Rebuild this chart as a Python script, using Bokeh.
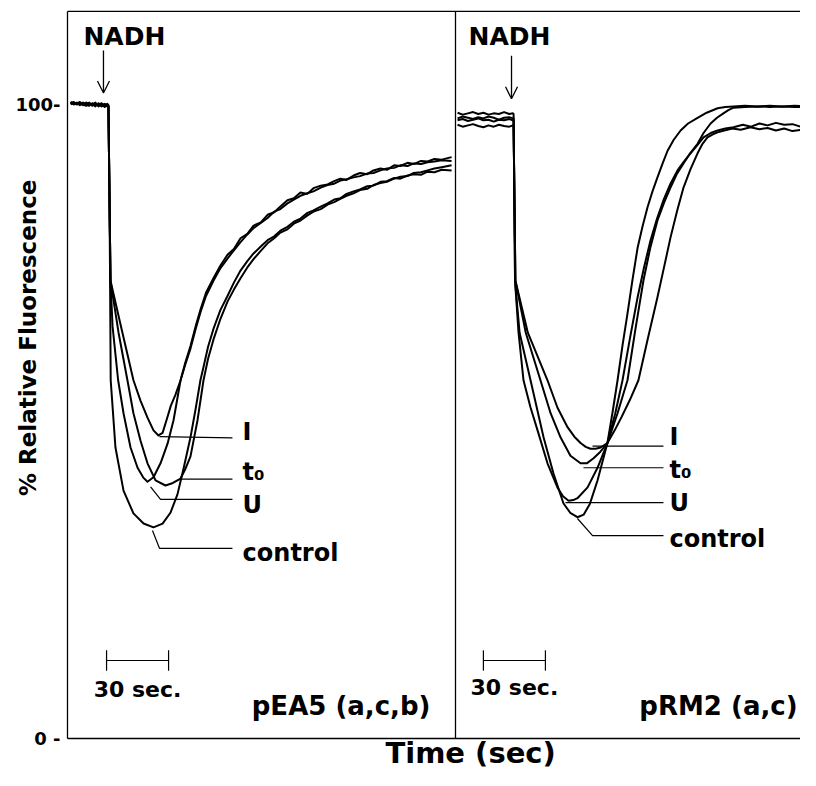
import math
from bokeh.plotting import figure
from bokeh.models import Range1d, Label, Arrow, OpenHead
from bokeh.embed import file_html
from bokeh.resources import INLINE

# ---------------- scales (seconds / % relative fluorescence) ----------------
X_START, X_END = -32.41, 354.6
Y_START, Y_END = -5.05, 116.4
FRAME_TOP = 114.67            # top border of the two panels
PANEL2_START = 187.7          # seconds at which the second panel begins
Y_TICKS = [0, 100]
Y_TICK_LABELS = ["0 -", "100-"]
Y_TICK_LABEL_X = -3.4

# ---------------- left panel: pEA5 (a,c,b) ----------------
L_base_t = [1.5, 3.0, 4.5, 6.0, 7.5, 9.0, 10.5, 12.0, 13.5, 15.0, 16.5, 18.0, 19.3]

L_I_t = L_base_t + [19.8, 20.3, 20.8, 26.3, 31.9, 35.3, 38.7, 41.6, 44.0, 46.0, 48.0, 50.0, 52.2,
                    54.7, 57, 59.5, 62, 64.3, 67, 70.6, 74, 77.4, 80.5, 83.7, 87, 90, 93.5, 96.8, 100,
                    103, 106.4, 109.5, 112.7, 116, 119, 122.5, 125.8, 129, 132, 135, 138.4, 141.5,
                    145, 148, 151.4, 154.5, 158, 161, 164.5, 167.5, 171, 174.2, 177.5, 181, 185.8]
L_I_y = [100.4, 100.1, 100.3, 99.9, 100.2, 100.0, 100.3, 99.8, 100.1, 99.9, 100.2, 99.8, 100.1,
         99.9, 86.0, 72.2, 64.4, 56.5, 53.3, 50.6, 48.6, 47.8, 48.2, 50.3, 52.5, 54.2,
         56.5, 59.3, 61.9, 65.0, 67.6, 70.3, 72.6, 74.6, 76.3, 77.2, 78.9, 79.6, 80.9, 81.4, 82.6, 83.0,
         83.9, 84.9, 85.2, 86.1, 85.9, 86.8, 87.2, 87.4, 87.9, 88.3, 88.1, 88.8, 89.2,
         89.0, 89.6, 89.9, 89.7, 90.4, 90.3, 90.8, 90.6, 91.1, 91.0, 91.4, 91.3, 91.7]

L_U_t = L_base_t + [19.8, 20.3, 20.8, 21.8, 24.5, 27.1, 30.5, 33.9, 36.8, 38.7, 41.6, 45.0, 48.4, 51.3,
                    54.7, 57, 59.5, 62, 64.3, 67, 70.6, 74, 77.4, 80.5, 83.7, 87, 90, 93.5, 96.8, 100,
                    103, 106.4, 109.5, 112.7, 116, 119, 122.5, 125.8, 129, 132, 135, 138.4, 141.5,
                    145, 148, 151.4, 154.5, 158, 161, 164.5, 167.5, 171, 174.2, 177.5, 181, 185.8]
L_U_y = [100.2, 100.4, 100.0, 100.2, 99.9, 100.3, 100.0, 100.1, 99.7, 100.2, 99.8, 100.1, 99.9,
         99.8, 86.0, 72.2, 65.0, 56.5, 51.3, 45.9, 42.7, 41.1, 40.5, 41.2, 43.4, 46.5, 50.2,
         56.5, 59.0, 61.5, 64.6, 67.2, 69.8, 72.2, 74.2, 75.7, 77.0, 78.3, 79.5, 80.5, 81.3, 82.1, 83.1,
         83.5, 84.4, 85.0, 85.6, 86.0, 86.3, 86.9, 87.3, 87.5, 88.0, 88.2, 88.5, 88.7,
         89.1, 89.2, 89.6, 89.9, 90.0, 90.4, 90.3, 90.7, 90.6, 90.9, 91.0, 91.2, 91.1]

L_t0_t = L_base_t + [19.8, 20.3, 20.8, 24.7, 29.0, 31.9, 35.3, 38.7, 42.6, 47.4, 51.0, 54.7, 57.0, 59.5, 62.9,
                     65.8, 68, 70.6, 74, 77.4, 80.5, 83.7, 87, 90, 93.5, 96.8, 100, 103, 106.4, 109.5,
                     112.7, 116.1, 119, 122.5, 125.8, 129, 132, 135, 138.4, 141.5, 145, 148, 151.4,
                     154.5, 158, 161, 164.5, 167.5, 171, 174.2, 177.5, 181, 185.8]
L_t0_y = [100.0, 100.3, 100.1, 100.4, 100.0, 99.8, 100.2, 99.9, 100.3, 99.7, 100.0, 99.6, 99.9,
          99.7, 86.0, 72.2, 64.0, 56.5, 51.3, 47.0, 43.4, 40.7, 39.9, 40.3, 41.0, 42.5, 44.5, 50.2,
          56.5, 59.9, 62.9, 66.2, 68.9, 70.8, 72.6, 74.3, 75.6, 76.9, 78.1, 78.9, 79.8, 80.3, 81.2,
          81.7, 82.5, 83.1, 83.5, 84.2, 84.6, 85.1, 85.6, 86.0, 86.5, 86.7, 87.3, 87.6,
          87.8, 88.3, 88.6, 88.7, 89.2, 89.3, 89.6, 89.9, 90.1, 90.4]

L_ctrl_t = L_base_t + [19.8, 20.3, 20.6, 20.9, 23.2, 27.1, 31.9, 36.8, 41.6, 46.0, 49.8, 53.2, 56.1, 59.5, 62.0,
                       64.3, 65.8, 68, 70.6, 74, 77.4, 80.5, 83.7, 87, 90, 93.5, 96.8, 100, 103, 106.4,
                       109.5, 112.7, 116.1, 119, 122.5, 125.8, 129, 132, 135, 138.4, 141.5, 145, 148,
                       151.4, 154.5, 158, 161, 164.5, 167.5, 171, 174.2, 177.5, 181, 185.8]
L_ctrl_y = [100.3, 100.0, 100.2, 100.1, 100.3, 99.9, 99.8, 100.2, 99.9, 100.1, 99.7, 100.0, 99.7,
            99.6, 86.0, 72.2, 56.5, 45.9, 39.1, 35.5, 33.9, 33.3, 33.9, 35.6, 38.5, 42.5, 47.5, 52.0,
            56.5, 58.6, 61.8, 64.6, 67.6, 69.8, 71.9, 73.8, 75.3, 76.5, 77.6, 78.6, 79.2, 80.1, 80.7,
            81.5, 82.0, 82.9, 83.3, 83.9, 84.4, 85.0, 85.2, 85.9, 86.3, 86.6, 87.1, 87.2,
            87.8, 87.9, 88.4, 88.3, 88.8, 89.0, 88.9, 89.4, 89.3, 89.7, 89.6]

# ---------------- right panel: pRM2 (a,c) (seconds from panel start) ----------------
R_base_t = [1.0, 3.5, 6.0, 8.5, 11.0, 13.5, 16.0, 18.5, 21.0, 23.5, 26.0, 27.8]

R_ctrl_t = R_base_t + [28.1, 28.5, 28.8, 31.0, 36.3, 42.6, 47.4, 52.2, 55.5, 59.0, 62.0, 65.0, 68.7, 73.5,
                       76.0, 78.4, 80.8, 83.2, 85.6, 88.1, 90.5, 92.9, 95.3, 97.7, 100.2, 102.6, 105.5,
                       108.9, 112.5, 117.1, 121.5, 126.8, 130.5, 134.5, 140, 146, 152, 158, 164, 170.8]
R_ctrl_y = [98.7, 98.4, 98.6, 98.8, 98.5, 98.7, 98.4, 98.6, 98.5, 98.8, 98.5, 98.6,
            98.5, 85.0, 72.2, 64.0, 56.5, 47.5, 41.8, 37.1, 35.6, 34.9, 35.3, 37.0, 40.7, 46.6,
            51.5, 56.5, 62.0, 67.0, 72.3, 77.4, 80.8, 83.8, 86.3, 88.5, 90.7, 92.7, 94.4,
            95.9, 97.0, 97.9, 98.7, 99.4, 99.6, 99.7, 99.8, 99.7, 99.8, 99.7, 99.8, 99.7]

R_U_t = R_base_t + [28.1, 28.5, 28.8, 30.5, 32.9, 36.3, 39.7, 44.5, 49.3, 52.0, 54.7, 57.0, 59.0, 63.9, 68.7,
                    73.5, 78.4, 83.2, 87.0, 90.9, 94.3, 97.7, 101.0, 104.0, 107.0, 110.3, 113.5, 117.1,
                    120.0, 123.4, 126.5, 129.6, 132.0, 134.5, 140, 146, 152, 158, 164, 170.8]
R_U_y = [97.8, 98.1, 97.9, 97.7, 98.0, 97.8, 98.1, 97.9, 97.6, 97.9, 98.0, 97.8,
         97.8, 85.0, 72.2, 64.0, 56.5, 52.2, 48.6, 43.4, 39.6, 38.2, 37.5, 37.6, 37.9, 39.6, 42.7,
         46.6, 51.3, 56.5, 64.5, 72.2, 77.5, 81.7, 84.6, 86.9, 89.0, 90.7, 92.3, 93.8,
         95.5, 97.0, 97.9, 98.6, 99.1, 99.5, 99.6, 99.7, 99.6, 99.7, 99.6, 99.6]

R_t0_t = R_base_t + [28.1, 28.5, 29.0, 34.0, 41.1, 46.0, 50.8, 55.6, 60.5, 63.5, 66.8, 70.0, 73.5, 77.3,
                     80.8, 84.5, 88.1, 91.2, 94.3, 97.5, 100.6, 104.0, 107.4, 110.5, 113.7, 117.0, 120.0,
                     123.5, 126.8, 130.5, 134.5, 139, 143, 147, 151, 155, 159, 163, 167, 170.8]
R_t0_y = [97.5, 97.7, 97.4, 97.6, 97.8, 97.5, 97.6, 97.3, 97.6, 97.5, 97.7, 97.5,
          97.5, 85.0, 72.2, 64.0, 56.5, 51.3, 47.5, 44.6, 43.4, 43.4, 44.2, 45.2, 46.6, 51.3,
          56.5, 63.3, 69.6, 74.3, 78.5, 82.0, 84.9, 87.5, 89.6, 91.0, 92.3, 93.6, 94.8,
          95.5, 95.9, 96.2, 96.4, 96.8, 96.5, 97.0, 96.7, 97.1, 96.8, 96.9, 96.5, 96.7]

R_I_t = R_base_t + [28.1, 28.5, 29.0, 35.0, 44.5, 49.3, 54.2, 57.5, 60.5, 63.0, 65.3, 67.8, 70.2, 73.5,
                    77.0, 80.5, 84.5, 88.5, 93.0, 97.7, 101.0, 104.0, 107.2, 110.3, 113.7, 117.1, 119.5,
                    121.9, 124.5, 126.8, 130, 134, 138, 142.7, 147, 151, 155, 159, 163, 167, 170.8]
R_I_y = [96.8, 96.5, 96.7, 96.9, 96.6, 96.4, 96.7, 96.5, 96.8, 96.6, 96.5, 96.7,
         96.7, 85.0, 72.2, 64.0, 56.5, 52.2, 49.1, 47.6, 46.6, 46.0, 45.7, 45.7, 45.9, 46.6,
         48.6, 50.8, 53.5, 56.5, 63.0, 69.6, 74.5, 79.0, 83.2, 86.9, 89.8, 92.3, 93.8,
         94.8, 95.3, 95.6, 95.9, 96.2, 96.0, 96.4, 96.1, 96.3, 95.9, 96.2, 95.8, 96.0, 95.9]

# ---------------- curve labels and leader lines ----------------
CURVE_NAMES = ["I", "t\u2080", "U", "control"]
L_label_t = 84.7
L_label_y = [48.4, 42.1, 36.75, 29.2]
L_leaders_t = [[44.5, 79.8], [54.7, 79.8], [40.2, 45.0, 79.8], [41.1, 44.5, 79.8]]
L_leaders_y = [[47.6, 47.4], [40.9, 40.9], [39.7, 37.7, 37.7], [32.8, 30.0, 30.0]]

R_label_t = 103.5
R_label_y = [47.6, 42.3, 37.2, 31.5]
R_leaders_t = [[66.3, 100.6], [61.9, 100.6], [53.2, 100.6], [59.0, 66.3, 100.6]]
R_leaders_y = [[46.1, 46.1], [42.7, 42.7], [37.2, 37.2], [34.7, 32.0, 32.0]]

# ---------------- annotations ----------------
NADH_t = [7.7, 6.3]            # left edge of "NADH" per panel
NADH_y = 110.65
ARROW_t = [17.4, 27.1]
ARROW_y_start = [108.5, 107.7]
ARROW_y_end = [101.8, 100.9]
SCALE_LEN = 30                 # seconds
SCALE_START = [18.9, 13.5]
SCALE_Y = 12.3
SCALE_TICK = 1.6
SCALE_TEXT = "30 sec."
SCALE_TEXT_Y = [7.8, 8.1]
PANEL_NAMES = ["pEA5 (a,c,b)", "pRM2 (a,c)"]
PANEL_NAME_T = [175.6, 165.5]  # right edge of the panel names
PANEL_NAME_Y = 5.2
X_TITLE = "Time (sec)"
X_TITLE_POS = (195.0, -2.35)
Y_TITLE = "% Relative Fluorescence"
Y_TITLE_POS = (-19.2, 63.2)

FONT = "DejaVu Sans"


def label(x, y, text, size, align="left", angle=0.0):
    return Label(x=x, y=y, text=text, text_font=FONT, text_font_style="bold",
                 text_font_size=size, text_align=align, text_baseline="middle",
                 angle=angle, text_color="black")


p = figure(width=800, height=770, output_backend="svg", toolbar_location=None,
           x_range=Range1d(X_START, X_END), y_range=Range1d(Y_START, Y_END),
           x_axis_location=None, y_axis_location=None,
           min_border_left=0, min_border_right=0, min_border_top=0, min_border_bottom=0)
p.outline_line_color = None
p.xgrid.visible = False
p.ygrid.visible = False
p.background_fill_color = "white"

# panel frame: left edge (value axis), bottom (time axis), top border, divider
p.segment(x0=[0, 0, 0, PANEL2_START], y0=[0, 0, FRAME_TOP, 0],
          x1=[0, X_END, X_END, PANEL2_START], y1=[FRAME_TOP, 0, FRAME_TOP, FRAME_TOP],
          line_color="black", line_width=1.3)

# value-axis tick labels
for v, txt in zip(Y_TICKS, Y_TICK_LABELS):
    p.add_layout(label(Y_TICK_LABEL_X, v, txt, "18px", align="right"))

left_curves = [(L_I_t, L_I_y), (L_U_t, L_U_y), (L_t0_t, L_t0_y), (L_ctrl_t, L_ctrl_y)]
right_curves = [(R_I_t, R_I_y), (R_U_t, R_U_y), (R_t0_t, R_t0_y), (R_ctrl_t, R_ctrl_y)]

for t, y in left_curves:
    p.line(t, y, line_color="black", line_width=2, line_join="round")
for t, y in right_curves:
    p.line([v + PANEL2_START for v in t], y, line_color="black", line_width=2, line_join="round")

for i, name in enumerate(CURVE_NAMES):
    p.line(L_leaders_t[i], L_leaders_y[i], line_color="black", line_width=1.2)
    p.line([v + PANEL2_START for v in R_leaders_t[i]], R_leaders_y[i], line_color="black", line_width=1.2)
    p.add_layout(label(L_label_t, L_label_y[i], name, "24px"))
    p.add_layout(label(R_label_t + PANEL2_START, R_label_y[i], name, "24px"))

offsets = [0.0, PANEL2_START]
for k in range(2):
    off = offsets[k]
    p.add_layout(label(NADH_t[k] + off, NADH_y, "NADH", "25px"))
    p.add_layout(Arrow(end=OpenHead(size=12, line_width=1.3, line_color="black"),
                       x_start=ARROW_t[k] + off, y_start=ARROW_y_start[k],
                       x_end=ARROW_t[k] + off, y_end=ARROW_y_end[k],
                       line_width=1.3, line_color="black"))
    x0 = SCALE_START[k] + off
    x1 = x0 + SCALE_LEN
    p.segment(x0=[x0, x0, x1], y0=[SCALE_Y, SCALE_Y - SCALE_TICK, SCALE_Y - SCALE_TICK],
              x1=[x1, x0, x1], y1=[SCALE_Y, SCALE_Y + SCALE_TICK, SCALE_Y + SCALE_TICK],
              line_color="black", line_width=1.2)
    p.add_layout(label((x0 + x1) / 2, SCALE_TEXT_Y[k], SCALE_TEXT, "22px", align="center"))
    p.add_layout(label(PANEL_NAME_T[k] + off, PANEL_NAME_Y, PANEL_NAMES[k], "26px", align="right"))

p.add_layout(label(Y_TITLE_POS[0], Y_TITLE_POS[1], Y_TITLE, "23px", align="center",
                   angle=math.pi / 2))
p.add_layout(label(X_TITLE_POS[0], X_TITLE_POS[1], X_TITLE, "29px", align="center"))

open("out.html", "w").write(file_html(p, INLINE))
